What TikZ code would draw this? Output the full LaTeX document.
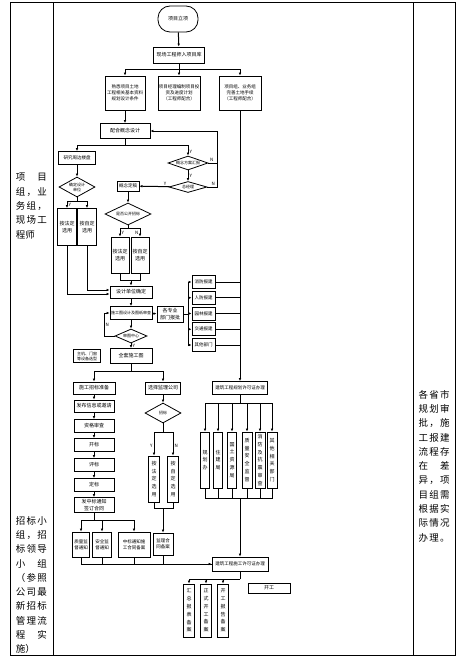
\documentclass[tikz,border=0pt]{standalone}
\usepackage{fontspec}
\setmainfont{Noto Sans CJK SC}
\usepackage{tikz}
\usetikzlibrary{shapes.geometric,arrows.meta}
\newcommand\bxfont{\fontsize{5}{6.2}\selectfont}
\newcommand\smfont{\fontsize{4.5}{5.8}\selectfont}
\newcommand\dcfont{\fontsize{4}{5}\selectfont}
\newcommand\vtfont{\fontsize{5}{7.8}\selectfont}
\newcommand\colfont{\fontsize{9.5}{14.3}\selectfont}

\begin{document}
\begin{tikzpicture}[x=1pt,y=-1pt,line width=1pt,
            >={Latex[length=3pt,width=2.6pt]},
            box/.style={draw, line width=0.8pt, inner sep=0.3pt, align=center, font=\bxfont},
            term/.style={box, rounded corners=12pt},
            dec/.style={shape=diamond, draw, line width=0.8pt, inner sep=0pt, align=center, font=\dcfont},
            vbox/.style={box, font=\vtfont},
            lbl/.style={font=\fontsize{4.5}{5}\selectfont, inner sep=1pt},
            col/.style={align=left, text width=31pt, inner sep=0pt, font=\colfont}]
        \useasboundingbox (0,0) rectangle (464,666);
        % table
        \draw (10,3) rectangle (455,655);
        \draw (53,3) -- (53,655);
        \draw (413,3) -- (413,655);
        \node[col] (colA) at (31.5,206) {项\hfill 目\\组\hfill ，\hfill 业\\务\hfill 组\hfill ，\\现\hfill 场\hfill 工\\程师};
        \node[col] (colB) at (31.5,585) {招\hfill 标\hfill 小\\组\hfill ，\hfill 招\\标\hfill 领\hfill 导\\小\hfill 组\\（\hfill 参\hfill 照\\公\hfill 司\hfill 最\\新\hfill 招\hfill 标\\管\hfill 理\hfill 流\\程\hfill 实\\施）};
        \node[col] (colC) at (434,466) {各\hfill 省\hfill 市\\规\hfill 划\hfill 审\\批\hfill ，\hfill 施\\工\hfill 报\hfill 建\\流\hfill 程\hfill 存\\在\hfill 差\\异\hfill ，\hfill 项\\目\hfill 组\hfill 需\\根\hfill 据\hfill 实\\际\hfill 情\hfill 况\\办\hfill 理\hfill 。};

        % top part
        \node[term, minimum width=40pt, minimum height=26pt] (start) at (178,19) {项目立项};
        \node[box, minimum width=51pt, minimum height=16pt] (lib) at (179,55) {现场工程师入项目库};
        \node[box, font=\smfont, minimum width=40pt, minimum height=34pt] (ta) at (125,93) {熟悉项目土地\\工程相关基本资料\\规划设计条件};
        \node[box, font=\smfont, minimum width=42pt, minimum height=34pt] (tb) at (179,93) {项目经理编制项目投\\资及进度计划\\（工程师配合）};
        \node[box, font=\smfont, minimum width=42pt, minimum height=34pt] (tc) at (240,93) {项目组、业务组\\完善土地手续\\（工程师配合）};
        \node[box, minimum width=50pt, minimum height=15pt] (concept) at (125,131) {配合概念设计};

        % design
        \node[box, font=\smfont, minimum width=37pt, minimum height=13pt] (study) at (77,158) {研究周边楼盘};
        \node[dec, aspect=3, minimum width=40pt, minimum height=14pt] (chk) at (188,163) {概念方案汇报};
        \node[dec, aspect=3, minimum width=38pt, minimum height=11pt] (boss) at (188,187) {总经理};
        \node[box, font=\smfont, minimum width=22pt, minimum height=10pt] (draft) at (128,186) {概念定稿};
        \node[dec, aspect=2, minimum width=46pt, minimum height=22pt] (bid) at (128,214) {是否公开招标};
        \node[box, minimum width=18pt, minimum height=36pt] (fa) at (120,255) {按法定\\选用};
        \node[box, minimum width=18pt, minimum height=36pt] (fb) at (140,255) {按自定\\选用};
        \node[dec, aspect=2, minimum width=36pt, minimum height=20pt] (pick) at (77,187) {确定设计\\单位};
        \node[box, minimum width=19pt, minimum height=37pt] (ea) at (67,227) {按法定\\选用};
        \node[box, minimum width=19pt, minimum height=37pt] (eb) at (87,227) {按自定\\选用};
        \node[box, minimum width=42pt, minimum height=12pt] (design) at (131,292) {设计单位确定};
        \node[box, font=\dcfont, minimum width=42pt, minimum height=13pt] (shop) at (131,313) {施工图设计及图纸审查};
        \node[box, minimum width=26pt, minimum height=16pt] (dept) at (170,314) {各专业\\部门报批};
        \foreach \t [count=\i] in {消防报建,人防报建,园林报建,交通报建,其他部门}
            \node[box, font=\smfont, minimum width=23pt, minimum height=13pt] (r\i) at (203.5,{282+15.75*(\i-1)}) {\t};
        \node[dec, aspect=2.5, minimum width=32pt, minimum height=14pt] (audit) at (131,336) {审图中心};
        \node[box, minimum width=42pt, minimum height=15pt] (full) at (131,356) {全套施工图};
        \node[box, font=\dcfont, minimum width=27pt, minimum height=13pt] (equip) at (87,356) {主机、门窗\\等设备选型};

        % tendering
        \node[box, minimum width=42pt, minimum height=12pt] (prep) at (94,388) {施工招标准备};
        \node[box, minimum width=40pt, minimum height=12pt] (pub) at (94,406) {发布信息或邀请};
        \node[box, minimum width=40pt, minimum height=13pt] (qual) at (94,426) {资格审查};
        \node[box, minimum width=40pt, minimum height=13pt] (open) at (94,445) {开标};
        \node[box, minimum width=40pt, minimum height=13pt] (eval) at (94,465) {评标};
        \node[box, minimum width=40pt, minimum height=13pt] (award) at (94,485) {定标};
        \node[box, minimum width=40pt, minimum height=15pt] (notice) at (94,505) {发中标通知\\签订合同};
        \node[box, font=\smfont, minimum width=17pt, minimum height=25pt] (nq) at (81,544.5) {质量监\\督通知};
        \node[box, font=\smfont, minimum width=19pt, minimum height=25pt] (ns) at (102,544.5) {安全监\\督通知};
        \node[box, font=\smfont, minimum width=32pt, minimum height=25pt] (nc) at (134,544.5) {中标通知施\\工合同备案};
        \node[box, minimum width=35pt, minimum height=12pt] (sup) at (163,388) {选择监理公司};
        \node[dec, aspect=2, minimum width=36pt, minimum height=20pt] (bidsup) at (163,413) {招标};
        \node[vbox, minimum width=11pt, minimum height=46pt] (ma) at (154,479) {按\\法\\定\\选\\用};
        \node[vbox, minimum width=11pt, minimum height=46pt] (mb) at (173,479) {按\\自\\定\\选\\用};
        \node[box, font=\smfont, minimum width=20pt, minimum height=22pt] (mc) at (163,544) {监理合\\同备案};

        % permits
        \node[box, font=\smfont, minimum width=55pt, minimum height=13pt] (plan) at (240,388) {建筑工程规划许可证办理};
        \node[vbox, minimum width=9pt, minimum height=56pt] (p1) at (205,460) {规\\划\\办};
        \node[vbox, minimum width=9pt, minimum height=56pt] (p2) at (218,460) {住\\建\\局};
        \node[vbox, minimum width=9pt, minimum height=56pt] (p3) at (232,460) {国\\土\\资\\源\\局};
        \node[vbox, minimum width=10pt, minimum height=56pt] (p4) at (247,460) {质\\量\\安\\全\\监\\督};
        \node[vbox, minimum width=10pt, minimum height=56pt] (p5) at (260,460) {消\\防\\及\\抗\\震\\审\\查};
        \node[vbox, minimum width=10pt, minimum height=56pt] (p6) at (272,460) {其\\他\\相\\关\\部\\门};
        \node[box, font=\smfont, minimum width=56pt, minimum height=14pt] (build) at (240,564) {建筑工程施工许可证办理};
        \node[vbox, minimum width=11pt, minimum height=53pt] (q1) at (189,610.5) {汇\\总\\报\\表\\备\\案};
        \node[vbox, minimum width=11pt, minimum height=53pt] (q2) at (206,610.5) {正\\式\\开\\工\\备\\案};
        \node[vbox, minimum width=11pt, minimum height=53pt] (q3) at (223,610.5) {开\\工\\报\\告\\备\\案};
        \node[box, minimum width=42pt, minimum height=10pt] (go) at (269,588) {开工};

        % connectors
        \draw[->] (start) -- (lib);
        \coordinate (j1) at (179,70);
        \draw (lib) -- (j1);
        \draw[->] (j1) -| (ta);
        \draw[->] (j1) -- (tb);
        \draw[->] (j1) -| (tc);
        \draw[->] (ta) -- (concept);
        \coordinate (j2) at (125,145);
        \draw (concept) -- (j2);
        \draw[->] (j2) -| (study);
        \draw[->] (j2) -| node[lbl,pos=0.8,right]{Y} (chk);
        \coordinate (j3) at (217,131);
        \draw[->] (chk.east) -| node[lbl,pos=0.2,above]{N} (j3) -- (concept.east);
        \draw (boss.east) -| node[lbl,pos=0.3,above]{N} (j3);
        \draw[->] (chk) -- node[lbl,right]{Y} (boss);
        \draw[->] (boss) -- node[lbl,pos=0.15,above]{Y} (draft);
        \draw[->] (draft) -- (bid);
        \coordinate (j4) at (128,228);
        \draw (bid) -- (j4);
        \draw[->] (j4) -| node[lbl,pos=0.8,right]{Y} (fa);
        \draw[->] (j4) -| node[lbl,pos=0.8,left]{N} (fb);
        \coordinate (j5) at (131,280);
        \draw (fa) |- (j5);
        \draw (fb) |- (j5);
        \draw[->] (j5) -- (design);
        \draw[->] (study) -- (pick);
        \coordinate (j6) at (77,201);
        \draw (pick) -- (j6);
        \draw[->] (j6) -| node[lbl,pos=0.8,right]{Y} (ea);
        \draw[->] (j6) -| (eb);
        \draw[->] (ea) |- ([yshift=-2pt]design.west);
        \draw[->] (eb) |- ([yshift=2pt]design.west);
        \draw[->] (design) -- (shop);
        \draw[->] (shop) -- (dept);
        \coordinate (j7) at (188,314);
        \draw (dept) -- (j7);
        \foreach \i in {1,...,5} {
            \draw[->] (j7) |- (r\i);
            \draw (r\i.east) -- (r\i -| tc);
        }
        \draw[->] (tc) -- (plan);
        \draw[->] (shop) -- (audit);
        \coordinate (j8) at (104,336);
        \draw[->] (audit) -- (j8) |- node[lbl,pos=0.25,right]{N} (shop);
        \draw[->] (audit) -- node[lbl,right]{Y} (full);
        \coordinate (j9) at (131,371);
        \draw (full) -- (j9);
        \draw[->] (j9) -| (prep);
        \draw[->] (j9) -| (sup);
        \foreach \a/\b in {prep/pub,pub/qual,qual/open,open/eval,eval/award,award/notice}
            \draw[->] (\a) -- (\b);
        \coordinate (j10) at (94,520);
        \draw (notice) -- (j10);
        \foreach \n in {nq,ns,nc}
            \draw[->] (j10) -| (\n);
        \draw[->] (sup) -- (bidsup);
        \coordinate (j11) at (163,432);
        \draw (bidsup) -- (j11);
        \draw[->] (j11) -| node[lbl,pos=0.8,left]{Y} (ma);
        \draw[->] (j11) -| node[lbl,pos=0.8,right]{N} (mb);
        \coordinate (j12) at (163,508);
        \draw (ma) |- (j12);
        \draw (mb) |- (j12);
        \draw[->] (j12) -- (mc);
        \draw[->] (mc) |- (build);
        \draw (nq) |- (build);
        \draw (ns) -- (ns |- build);
        \draw (nc) -- (nc |- build);
        \coordinate (j13) at (240,403);
        \draw (plan) -- (j13);
        \coordinate (j14) at (240,498);
        \foreach \i in {1,...,6} {
            \draw[->] (j13) -| (p\i);
            \draw (p\i) |- (j14);
        }
        \draw[->] (j14) -- (build);
        \coordinate (j15) at (240,579);
        \draw (build) -- (j15);
        \foreach \n in {q1,q2,q3}
            \draw[->] (j15) -| (\n);
    \end{tikzpicture}
\end{document}
